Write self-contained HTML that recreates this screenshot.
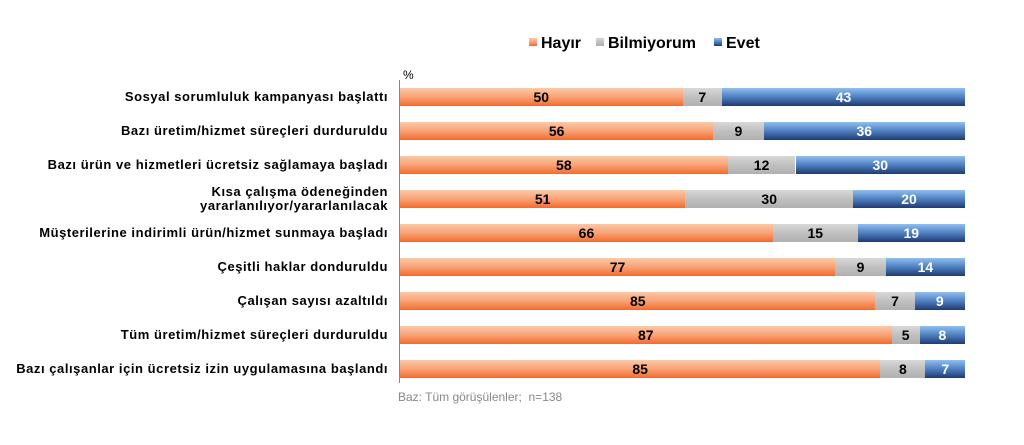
<!DOCTYPE html>
<html><head><meta charset="utf-8"><style>
body{margin:0;width:1024px;height:445px;background:#fff;font-family:"Liberation Sans",sans-serif;position:relative;overflow:hidden}
.l{position:absolute;right:636px;font-size:13px;letter-spacing:0.55px;font-weight:bold;color:#000;text-align:right;line-height:14px;transform:translateY(-50%);white-space:nowrap}
.b{position:absolute;height:18px;font-size:14px;font-weight:bold;text-align:center;line-height:18px;color:#000}
.h{background:linear-gradient(#fcc9a6,#f9a276 50%,#f56a2a)}
.g{background:linear-gradient(#d8d8d8,#c0c0c0 50%,#b0b0b0)}
.e{background:linear-gradient(#8ebff0,#4f7fc0 50%,#1f3a70);color:#fff}
.lg{position:absolute;top:35px;font-size:16px;font-weight:bold}
.sq{display:inline-block;width:8px;height:8px;margin-right:4px;vertical-align:2px}
</style></head><body>
<div class="lg" style="left:529px"><span class="sq h"></span>Hayır</div>
<div class="lg" style="left:596px"><span class="sq g"></span>Bilmiyorum</div>
<div class="lg" style="left:714px"><span class="sq e"></span>Evet</div>
<div style="position:absolute;left:403px;top:68px;font-size:12px">%</div>
<div style="position:absolute;left:399px;top:80px;width:1px;height:303px;background:#888"></div>
<div style="position:absolute;left:398px;top:390px;font-size:12px;color:#888">Baz: Tüm görüşülenler;&nbsp; n=138</div>
<div id="c"></div>
<script>
var d=[["Sosyal sorumluluk kampanyası başlattı",50,7,43],["Bazı üretim/hizmet süreçleri durduruldu",56,9,36],["Bazı ürün ve hizmetleri ücretsiz sağlamaya başladı",58,12,30],["Kısa çalışma ödeneğinden <br>yararlanılıyor/yararlanılacak",51,30,20],["Müşterilerine indirimli ürün/hizmet sunmaya başladı",66,15,19],["Çeşitli haklar donduruldu",77,9,14],["Çalışan sayısı azaltıldı",85,7,9],["Tüm üretim/hizmet süreçleri durduruldu",87,5,8],["Bazı çalışanlar için ücretsiz izin uygulamasına başlandı",85,8,7]];
var h="";
d.forEach(function(r,i){var c=97+34*i,t=c-9;h+='<div class="l" style="top:'+c+'px">'+r[0]+'</div>';
var x=400,s=r[1]+r[2]+r[3];["h","g","e"].forEach(function(k,j){var w=r[j+1]/s*565;h+='<div class="b '+k+'" style="left:'+x+'px;top:'+t+'px;width:'+w+'px">'+r[j+1]+'</div>';x+=w;});});
document.getElementById("c").innerHTML=h;
</script>
</body></html>
